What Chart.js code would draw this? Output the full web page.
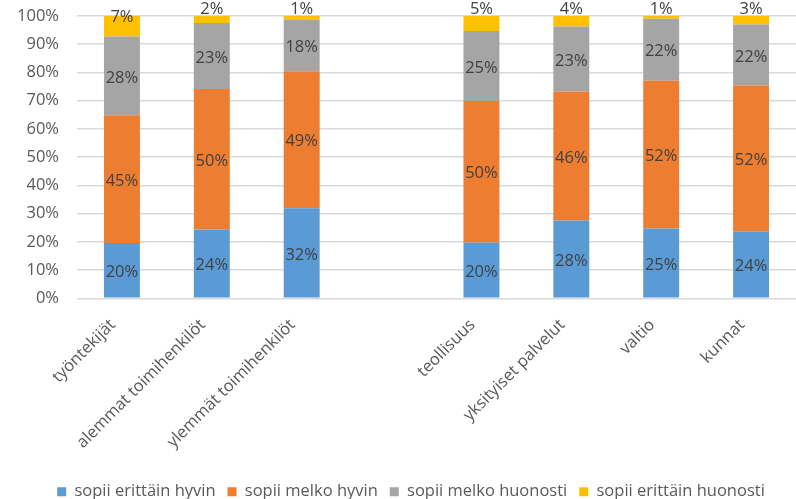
<!DOCTYPE html>
<html>
<head>
<meta charset="utf-8">
<script src="https://cdn.jsdelivr.net/npm/chart.js@4/dist/chart.umd.min.js"></script>
<style>
  html, body { margin: 0; padding: 0; background: #ffffff; }
  canvas { display: block; }
</style>
</head>
<body>
<canvas id="c" width="796" height="499"></canvas>
<script>
// ---- data ----
const categories = ["työntekijät", "alemmat toimihenkilöt", "ylemmät toimihenkilöt", "", "teollisuus", "yksityiset palvelut", "valtio", "kunnat"];
const seriesNames = ["sopii erittäin hyvin", "sopii melko hyvin", "sopii melko huonosti", "sopii erittäin huonosti"];
const erittainHyvin   = [19.6, 24.4, 31.9, null, 19.8, 27.6, 24.7, 23.6];
const melkoHyvin      = [45.2, 49.7, 48.5, null, 50.1, 45.7, 52.4, 51.8];
const melkoHuonosti   = [27.9, 23.45, 18.3, null, 24.8, 23.0, 21.9, 21.6];
const erittainHuonosti = [7.3, 2.45, 1.3, null, 5.3, 3.7, 1.0, 3.0];
const yTicks = [0, 10, 20, 30, 40, 50, 60, 70, 80, 90, 100];

const colors = ["#5B9BD5", "#ED7D31", "#A5A5A5", "#FFC000"];
const FONT = "'Open Sans', 'Liberation Sans', sans-serif";
const FS = 16.5;

const seriesData = [erittainHyvin, melkoHyvin, melkoHuonosti, erittainHuonosti];

const dataLabelPlugin = {
  id: 'dataLabels',
  afterDatasetsDraw(chart) {
    const ctx = chart.ctx;
    ctx.save();
    ctx.font = FS + "px " + FONT;
    ctx.fillStyle = "#404040";
    ctx.textAlign = "center";
    ctx.textBaseline = "middle";
    chart.data.datasets.forEach((ds, di) => {
      const meta = chart.getDatasetMeta(di);
      meta.data.forEach((bar, i) => {
        const v = ds.data[i];
        if (v === null || v === undefined) return;
        const txt = Math.round(v) + "%";
        let y;
        if (di === seriesData.length - 1) {
          const top = Math.min(bar.y, bar.base);
          y = v >= 6 ? top + 1 : top - 6.5;
        } else {
          y = (bar.y + bar.base) / 2 + 2;
        }
        ctx.fillText(txt, bar.x, y);
      });
    });
    ctx.restore();
  }
};

const legendShiftPlugin = {
  id: 'legendShift',
  afterLayout(chart) {
    const lg = chart.legend;
    if (!lg) return;
    lg.left += 13; lg.right += 13;
    lg.top += 2; lg.bottom += 2;
  }
};

new Chart(document.getElementById('c'), {
  type: 'bar',
  data: {
    labels: categories,
    datasets: seriesData.map((d, i) => ({
      label: seriesNames[i],
      data: d,
      backgroundColor: colors[i],
      borderWidth: 0,
      categoryPercentage: 1.0,
      barPercentage: 0.4
    }))
  },
  options: {
    responsive: false,
    animation: false,
    devicePixelRatio: 1,
    layout: { padding: { top: 16, right: 0, left: 0, bottom: -9 } },
    plugins: {
      tooltip: { enabled: false },
      legend: {
        position: 'bottom',
        labels: {
          boxWidth: 9,
          boxHeight: 9,
          padding: 12,
          color: "#595959",
          font: { family: FONT, size: FS }
        }
      }
    },
    scales: {
      x: {
        stacked: true,
        grid: { display: false, drawTicks: false },
        border: { display: false },
        afterFit(scale) { scale.paddingLeft = 0; scale.paddingRight = 0; },
        ticks: {
          autoSkip: false,
          maxRotation: 45,
          minRotation: 45,
          padding: 17,
          labelOffset: -9,
          color: "#595959",
          font: { family: FONT, size: FS }
        }
      },
      y: {
        stacked: true,
        min: 0,
        max: 100,
        afterBuildTicks(scale) { scale.ticks = yTicks.map(v => ({ value: v })); },
        afterFit(scale) { scale.width = 77; scale.paddingTop = 0; scale.paddingBottom = 0; },
        grid: { color: "#d9d9d9", lineWidth: 1.5, drawTicks: false },
        border: { display: false },
        ticks: {
          padding: 18,
          color: "#595959",
          font: { family: FONT, size: FS },
          callback: v => v + "%"
        }
      }
    }
  },
  plugins: [dataLabelPlugin, legendShiftPlugin]
});
</script>
</body>
</html>
